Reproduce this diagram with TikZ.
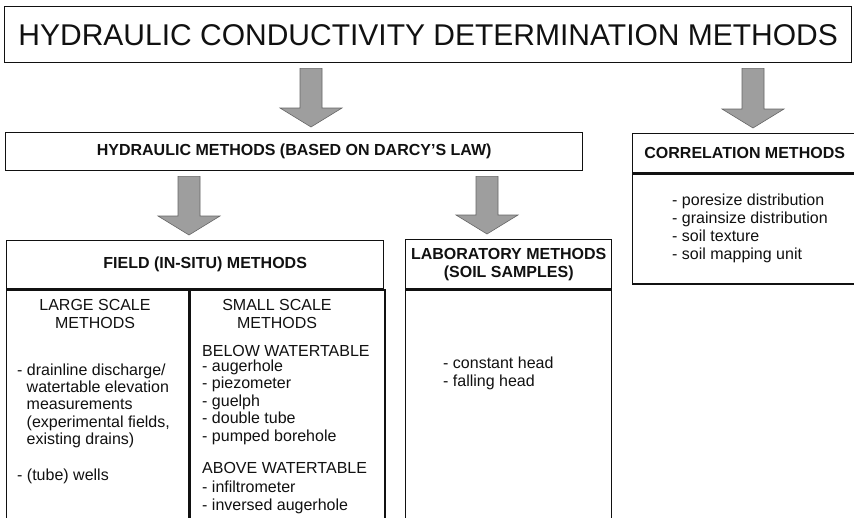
\documentclass[tikz,border=0pt]{standalone}
\usepackage{fontspec}
\setmainfont{Liberation Sans}
\usetikzlibrary{positioning,calc}
\definecolor{ink}{HTML}{111111}
\definecolor{arrfill}{HTML}{9E9E9E}
\definecolor{arrdraw}{HTML}{666666}
\tikzset{
  box/.style={draw=ink,line width=1.4pt,anchor=north west,inner sep=0pt,text=ink,
    font=\fontsize{16}{17.4}\selectfont},
  hdr/.style={box,align=center,font=\fontsize{16}{18}\selectfont\bfseries},
  ttl/.style={box,font=\fontsize{30}{32}\selectfont},
  txt/.style={anchor=base west,inner sep=0pt,text=ink,font=\fontsize{16}{17.4}\selectfont},
  ctr/.style={txt,anchor=base},
  blockarr/.style={fill=arrfill,draw=arrdraw,line width=0.6pt}
}
% block arrow pointing down: x position, upper node, lower node
\newcommand\blockdown[3]{%
  \path[blockarr] let \p1=(#2.south), \p2=(#3.north) in
    (#1pt-11pt,\y1-5pt) -- (#1pt+11pt,\y1-5pt) -- (#1pt+11pt,\y2+24pt)
    -- (#1pt+31pt,\y2+24pt) -- (#1pt,\y2+5pt) -- (#1pt-31pt,\y2+24pt)
    -- (#1pt-11pt,\y2+24pt) -- cycle;}
\begin{document}
\begin{tikzpicture}[x=1pt,y=-1pt]
  \useasboundingbox (0,0) rectangle (854,517);
  \clip (0,0) rectangle (854,517);
  \fill[white] (0,0) rectangle (854,517);
  % boxes
  \node[ttl,minimum width=847pt,minimum height=56pt] (title) at (4,6)
    {HYDRAULIC CONDUCTIVITY DETERMINATION METHODS};
  \node[hdr,minimum width=577pt,minimum height=38pt] (hyd) at (5,132)
    {HYDRAULIC METHODS (BASED ON DARCY\symbol{"27}S LAW)};
  \node[hdr,minimum width=224pt,minimum height=39pt] (corrhd) at (632,133)
    {CORRELATION METHODS};
  \node[box,minimum width=224pt,minimum height=110pt] (corr) at (corrhd.south west) {};
  \node[hdr,minimum width=377pt,minimum height=48pt] (fieldhd) at (6,240)
    {\hspace*{20pt}FIELD (IN-SITU) METHODS};
  \node[box,minimum width=182pt,minimum height=240pt] (large) at (fieldhd.south west) {};
  \node[box,minimum width=195pt,minimum height=240pt] (small) at (large.north east) {};
  \node[hdr,minimum width=206pt,minimum height=49pt] (labhd) at (405,239)
    {LABORATORY METHODS\\(SOIL SAMPLES)};
  \node[box,minimum width=206pt,minimum height=240pt] (lab) at (labhd.south west) {};
  % arrows
  \blockdown{311}{title}{hyd}
  \blockdown{753}{title}{corrhd}
  \blockdown{189}{hyd}{fieldhd}
  \blockdown{487}{hyd}{labhd}
  % large scale methods
  \node[ctr] (lg1) at (95,310) {LARGE SCALE};
  \node[ctr] (lg2) at (95,328) {METHODS};
  \foreach \y/\x/\s [count=\i] in {375/17/{- drainline discharge/},
      392/26.5/{watertable elevation},409/26.5/{measurements},
      427/26.5/{(experimental fields,},444/26.5/{existing drains)},
      480/17/{- (tube) wells}}
    \node[txt] (lgi\i) at (\x,\y) {\s};
  % small scale methods
  \node[ctr] (sm1) at (277,310) {SMALL SCALE};
  \node[ctr] (sm2) at (277,328) {METHODS};
  \foreach \y/\s [count=\i] in {356/{BELOW WATERTABLE},371/{- augerhole},
      388/{- piezometer},406/{- guelph},423/{- double tube},
      441/{- pumped borehole},473/{ABOVE WATERTABLE},
      492/{- infiltrometer},510/{- inversed augerhole}}
    \node[txt] (smi\i) at (202,\y) {\s};
  % laboratory
  \foreach \y/\s [count=\i] in {368/{- constant head},386/{- falling head}}
    \node[txt] (labi\i) at (443,\y) {\s};
  % correlation
  \foreach \y/\s [count=\i] in {205/{- poresize distribution},
      223/{- grainsize distribution},241/{- soil texture},259/{- soil mapping unit}}
    \node[txt] (cori\i) at (672,\y) {\s};
\end{tikzpicture}
\end{document}
